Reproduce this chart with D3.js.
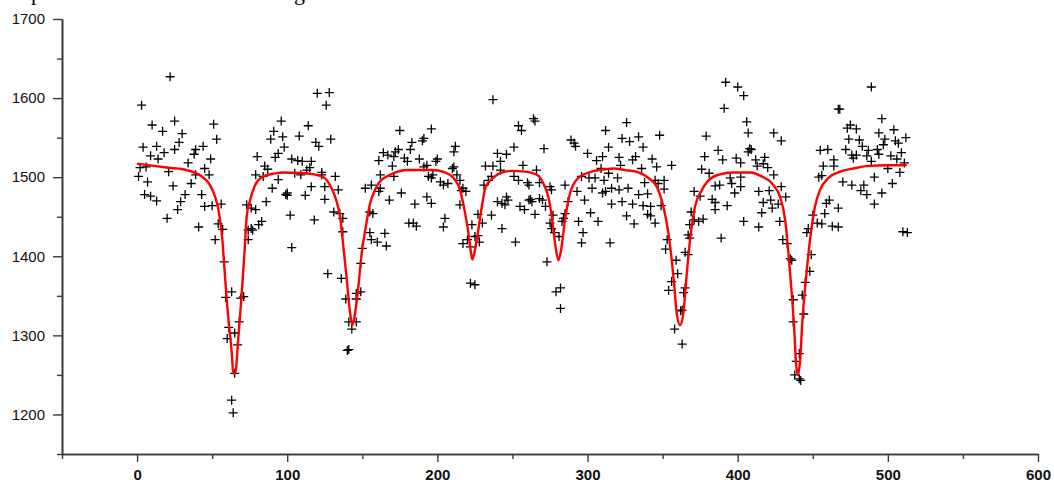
<!DOCTYPE html>
<html>
<head>
<meta charset="utf-8">
<script src="https://cdn.jsdelivr.net/npm/d3@7"></script>
<style>
  html, body { margin: 0; padding: 0; background: #fff; }
  #chart { width: 1054px; height: 482px; }
</style>
</head>
<body>
<div id="chart"></div>
<script>
const channels = [
  22,3,10,25,17,30,51,53,4,13,28,25,39,44,18,9,14,38,34,49,45,2,1,6,21,39,48,7,24,36,5,9,13,32,29,43,27,45,50,56,20,41,54,57,52,58,59,63,61,60,65,68,67,65,63,64,69,71,
  120,128,126,96,114,91,89,97,108,119,121,129,98,94,92,80,85,87,103,107,110,116,115,79,84,94,105,109,113,123,123,132,90,100,100,99,116,112,125,134,125,86,76,79,73,102,118,131,135,137,83,81,76,74,74,77,137,103,127,136,139,146,149,146,141,146,143,141,140,152,156,155,157,155,156,150,149,
  237,175,196,191,190,183,182,212,211,174,172,164,167,171,178,180,188,200,199,161,170,191,193,210,211,232,237,162,171,194,197,196,202,204,207,213,215,162,161,217,219,216,231,234,236,176,168,193,196,185,215,236,205,204,181,184,186,227,223,230,165,166,160,225,227,217,220,222,228,222,225,
  264,265,254,256,312,289,291,292,251,271,314,240,246,300,310,306,242,257,266,242,309,314,296,301,305,311,251,254,260,261,268,275,276,285,293,298,303,310,312,316,316,246,247,245,240,243,255,258,261,263,262,268,270,272,265,277,285,284,283,287,302,307,294,275,276,278,281,243,252,297,296,315,273,282,279,282,
  392,391,326,348,379,323,328,334,337,387,390,378,332,330,321,322,343,346,356,336,376,381,320,345,351,347,338,351,327,321,385,388,396,395,371,340,334,323,330,337,342,349,375,383,385,393,326,331,340,342,345,385,369,371,374,377,368,367,368,389,353,352,365,367,359,360,356,354,365,364,362,363,358,363,
  400,404,406,407,424,429,467,468,473,475,474,408,409,407,399,402,412,413,418,420,417,455,460,464,464,472,476,477,457,454,456,424,402,402,398,414,421,417,423,422,429,432,427,416,404,414,428,470,476,467,459,458,461,453,456,463,467,450,447,446,430,433,435,436,449,448,445,443,437,444,437,441,439,438,441,442,
  489,496,479,504,512,494,498,505,507,481,483,487,493,497,479,486,494,489,502,509,506,500,508,511,491,503,484,482,486,496,491,510,513
];
const counts = [
  1627,1591,1566,1571,1558,1555,1567,1548,1538,1539,1544,1535,1535,1539,1531,1527,1523,1529,1518,1523,1511,1512,1501,1513,1507,1503,1503,1494,1489,1492,1478,1476,1470,1478,1469,1478,1459,1463,1464,1466,1448,1437,1441,1434,1421,1393,1348,1355,1310,1296,1303,1317,1288,1252,1218,1202,1347,1349,
  1606,1607,1591,1571,1565,1558,1548,1551,1552,1544,1539,1548,1538,1530,1525,1526,1514,1510,1523,1521,1520,1520,1512,1503,1501,1497,1505,1503,1509,1506,1503,1501,1486,1480,1477,1478,1488,1477,1488,1484,1472,1469,1461,1459,1465,1452,1446,1456,1454,1448,1444,1440,1435,1433,1421,1433,1431,1411,1378,1372,1346,1353,1355,1346,1317,1317,1308,1282,1281,1486,1490,1456,1454,1430,1421,1410,1391,
  1598,1559,1561,1549,1546,1544,1535,1539,1532,1535,1532,1531,1528,1526,1524,1520,1523,1523,1520,1521,1514,1513,1515,1511,1513,1514,1514,1503,1501,1501,1503,1499,1494,1490,1492,1503,1496,1486,1482,1486,1482,1483,1490,1496,1501,1480,1471,1475,1467,1466,1465,1452,1448,1437,1442,1442,1438,1453,1440,1442,1429,1413,1418,1425,1426,1416,1421,1412,1418,1366,1364,
  1574,1571,1565,1559,1559,1547,1543,1539,1538,1536,1538,1530,1529,1530,1526,1521,1520,1515,1509,1509,1511,1505,1501,1499,1499,1496,1501,1496,1493,1490,1493,1488,1484,1490,1482,1471,1486,1480,1482,1486,1466,1475,1471,1465,1469,1467,1463,1459,1471,1469,1472,1473,1471,1463,1453,1452,1454,1448,1444,1469,1455,1444,1444,1442,1435,1430,1425,1435,1418,1430,1417,1417,1393,1360,1355,1334,
  1620,1587,1569,1553,1552,1549,1545,1551,1538,1534,1522,1526,1526,1522,1525,1515,1523,1513,1515,1511,1510,1505,1499,1496,1496,1492,1493,1485,1486,1484,1489,1490,1492,1499,1482,1479,1478,1469,1466,1464,1463,1464,1476,1472,1468,1464,1451,1441,1453,1451,1442,1459,1456,1446,1444,1447,1440,1427,1423,1423,1421,1409,1405,1402,1395,1378,1368,1357,1360,1354,1331,1332,1308,1289,
  1614,1603,1570,1556,1556,1546,1586,1586,1562,1566,1548,1536,1535,1532,1524,1518,1522,1514,1525,1512,1517,1534,1535,1522,1514,1535,1528,1524,1514,1500,1502,1503,1500,1488,1480,1482,1483,1468,1461,1471,1488,1475,1466,1455,1444,1437,1444,1494,1490,1461,1467,1454,1471,1442,1441,1438,1437,1452,1435,1430,1421,1416,1397,1395,1402,1381,1367,1351,1345,1327,1317,1277,1267,1250,1245,1243,
  1614,1574,1561,1560,1550,1556,1548,1546,1543,1547,1539,1534,1535,1541,1528,1527,1529,1520,1527,1531,1523,1511,1506,1518,1500,1492,1490,1483,1478,1480,1466,1431,1430
];

// fitted curve, sampled off the red line
const fitChannels = [0,21,33,43,48.6,52,54.2,56.8,58.1,59.7,61.3,63.1,64,65.3,67.5,69.7,71.5,73,75.3,78.6,83,89.7,96.4,111.9,123,128.5,131.9,135.2,137.4,139.7,141.9,143.4,145.2,147.4,149.6,152.3,155.2,158.5,160.7,168.5,180.7,196.3,205.1,210.7,215.1,218,220.7,222.4,223.3,224.6,226.9,229.6,232.2,236.5,241.8,249.5,258.4,266.2,270.6,273.9,276.2,278.4,280.6,282.4,285,288.4,293.9,302.8,311.7,317.2,325,333.9,340.5,346.1,350.5,353.9,356.1,357.8,359.4,361.6,363.8,366.1,368.3,371.6,375.6,380.5,387.1,397.1,408.3,416,423.8,428.2,431.6,433.8,436,437.8,438.7,440,441.6,443.1,445.4,448.2,451.5,454.9,460.4,468.2,477,486,500.4,512.6];
const fitCounts = [1517,1512,1509,1501,1490,1475,1459,1421,1387,1345,1311,1277,1252,1252,1298,1353,1404,1450,1471,1490,1500,1504,1506,1505,1501,1490,1475,1450,1412,1370,1328,1313,1328,1362,1404,1437,1467,1484,1492,1503,1509,1509,1506,1499,1484,1459,1429,1404,1396,1404,1429,1463,1488,1498,1505,1508,1507,1503,1492,1475,1450,1416,1395,1408,1446,1480,1499,1507,1510,1511,1509,1506,1499,1488,1463,1429,1395,1362,1328,1313,1328,1378,1421,1463,1482,1496,1503,1506,1506,1501,1490,1475,1446,1404,1353,1303,1269,1250,1269,1319,1370,1421,1463,1484,1499,1507,1511,1514,1515,1515];

const xMajor = [0, 100, 200, 300, 400, 500, 600];
const xMinor = [-50, 50, 150, 250, 350, 450, 550];
const yMajor = [1200, 1300, 1400, 1500, 1600, 1700];
const yMinor = [1150, 1250, 1350, 1450, 1550, 1650];

const W = 1054, H = 482;
const plotLeft = 62, plotRight = 1038, plotTop = 19, plotBottom = 454;

const svg = d3.select("#chart").append("svg")
  .attr("width", W)
  .attr("height", H)
  .attr("viewBox", `0 0 ${W} ${H}`);

svg.append("rect").attr("width", W).attr("height", H).attr("fill", "#fff");

// caption line of the page sits just above the crop; only descenders show
svg.append("text").attr("x", 31).attr("y", -0.5)
  .attr("font-family", "'Liberation Serif', serif").attr("font-size", 22).text("p");
svg.append("text").attr("x", 294).attr("y", -0.5)
  .attr("font-family", "'Liberation Serif', serif").attr("font-size", 22).text("g");

const x = d3.scaleLinear().domain([-50, 600]).range([plotLeft, plotRight]);
const y = d3.scaleLinear().domain([1150, 1700]).range([plotBottom, plotTop]);

function styleAxis(g) {
  g.select(".domain").attr("stroke", "#3a3a3a").attr("stroke-width", 1.6);
  g.selectAll(".tick line").attr("stroke", "#3a3a3a").attr("stroke-width", 1.4);
}

// minor ticks first, majors with labels on top
svg.append("g")
  .attr("transform", `translate(0,${plotBottom})`)
  .call(d3.axisBottom(x).tickValues(xMinor).tickSize(5).tickSizeOuter(0).tickFormat(""))
  .call(styleAxis);

svg.append("g")
  .attr("transform", `translate(0,${plotBottom})`)
  .call(d3.axisBottom(x).tickValues(xMajor).tickSize(8).tickSizeOuter(0).tickPadding(7).tickFormat(d3.format("d")))
  .call(styleAxis)
  .call(g => g.selectAll("text")
    .attr("fill", "#111")
    .attr("font-family", "'Liberation Sans', Arial, sans-serif")
    .attr("font-weight", "bold")
    .attr("font-size", 15));

svg.append("g")
  .attr("transform", `translate(${plotLeft},0)`)
  .call(d3.axisLeft(y).tickValues(yMinor).tickSize(5).tickSizeOuter(0).tickFormat(""))
  .call(styleAxis);

svg.append("g")
  .attr("transform", `translate(${plotLeft},0)`)
  .call(d3.axisLeft(y).tickValues(yMajor).tickSize(9).tickSizeOuter(0).tickPadding(8).tickFormat(d3.format("d")))
  .call(styleAxis)
  .call(g => g.selectAll("text")
    .attr("fill", "#111")
    .attr("font-family", "'Liberation Sans', Arial, sans-serif")
    .attr("font-size", 15));

// data as "+" markers
const pts = channels.map((c, i) => [c, counts[i]]);
svg.append("g")
  .selectAll("path")
  .data(pts)
  .enter()
  .append("path")
  .attr("transform", d => `translate(${x(d[0])},${y(d[1])})`)
  .attr("d", "M-4.5,0H4.5M0,-4.5V4.5")
  .attr("stroke", "#000")
  .attr("stroke-width", 1.3)
  .attr("fill", "none");

// fitted curve
const fit = fitChannels.map((c, i) => [c, fitCounts[i]]);
const line = d3.line()
  .x(d => x(d[0]))
  .y(d => y(d[1]))
  .curve(d3.curveMonotoneX);

svg.append("path")
  .datum(fit)
  .attr("d", line)
  .attr("fill", "none")
  .attr("stroke", "#ff0000")
  .attr("stroke-width", 2.4)
  .attr("stroke-linejoin", "round");
</script>
</body>
</html>
